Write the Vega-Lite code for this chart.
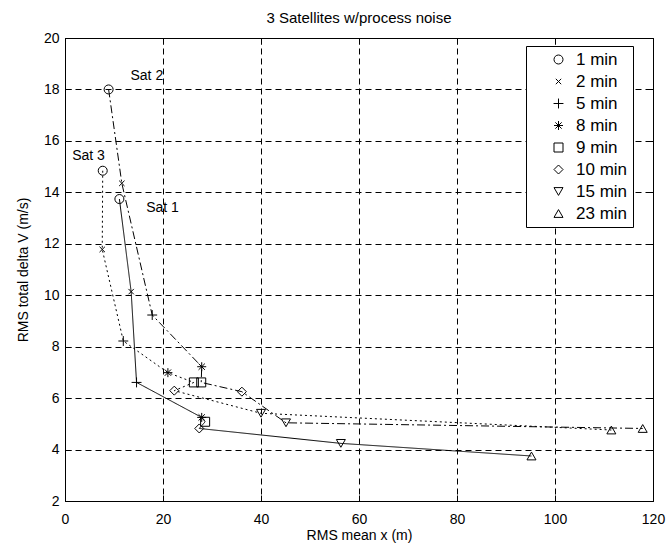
{
  "$schema": "https://vega.github.io/schema/vega-lite/v6.json",
  "width": 588,
  "height": 463,
  "autosize": "none",
  "padding": {"left": 65, "top": 38, "right": 17, "bottom": 51},
  "background": "white",
  "title": {"text": "3 Satellites w/process noise", "font": "Liberation Sans", "fontSize": 15, "fontWeight": "normal", "color": "black", "offset": 5},
  "config": {
    "view": {"stroke": "black", "strokeWidth": 1},
    "font": "Liberation Sans",
    "axis": {
      "domain": false,
      "tickColor": "black",
      "tickSize": -6,
      "labelFlush": false,
      "labelFont": "Liberation Sans",
      "labelFontSize": 14,
      "labelColor": "black",
      "titleFont": "Liberation Sans",
      "titleFontSize": 14,
      "titleFontWeight": "normal",
      "titleColor": "black",
      "grid": true,
      "gridColor": "black",
      "gridOpacity": 1,
      "gridDash": [6, 4],
      "gridWidth": 1
    }
  },
  "resolve": {"axis": {"x": "independent", "y": "independent"}},
  "datasets": {
    "pts": [
      {"sat": "Sat 1", "interval": "1 min", "order": 1, "x": 11.1, "y": 13.74},
      {"sat": "Sat 1", "interval": "2 min", "order": 2, "x": 13.5, "y": 10.14},
      {"sat": "Sat 1", "interval": "5 min", "order": 3, "x": 14.6, "y": 6.61},
      {"sat": "Sat 1", "interval": "8 min", "order": 4, "x": 27.9, "y": 5.25},
      {"sat": "Sat 1", "interval": "9 min", "order": 5, "x": 28.6, "y": 5.08},
      {"sat": "Sat 1", "interval": "10 min", "order": 6, "x": 27.4, "y": 4.82},
      {"sat": "Sat 1", "interval": "15 min", "order": 7, "x": 56.3, "y": 4.24},
      {"sat": "Sat 1", "interval": "23 min", "order": 8, "x": 95.2, "y": 3.75},
      {"sat": "Sat 2", "interval": "1 min", "order": 1, "x": 8.9, "y": 18.0},
      {"sat": "Sat 2", "interval": "2 min", "order": 2, "x": 11.6, "y": 14.35},
      {"sat": "Sat 2", "interval": "5 min", "order": 3, "x": 17.8, "y": 9.23},
      {"sat": "Sat 2", "interval": "8 min", "order": 4, "x": 27.9, "y": 7.22},
      {"sat": "Sat 2", "interval": "9 min", "order": 5, "x": 27.8, "y": 6.61},
      {"sat": "Sat 2", "interval": "10 min", "order": 6, "x": 36.1, "y": 6.25},
      {"sat": "Sat 2", "interval": "15 min", "order": 7, "x": 45.1, "y": 5.04},
      {"sat": "Sat 2", "interval": "23 min", "order": 8, "x": 117.9, "y": 4.82},
      {"sat": "Sat 3", "interval": "1 min", "order": 1, "x": 7.7, "y": 14.84},
      {"sat": "Sat 3", "interval": "2 min", "order": 2, "x": 7.6, "y": 11.78},
      {"sat": "Sat 3", "interval": "5 min", "order": 3, "x": 11.9, "y": 8.22},
      {"sat": "Sat 3", "interval": "8 min", "order": 4, "x": 21.0, "y": 6.99},
      {"sat": "Sat 3", "interval": "9 min", "order": 5, "x": 26.3, "y": 6.61},
      {"sat": "Sat 3", "interval": "10 min", "order": 6, "x": 22.3, "y": 6.29},
      {"sat": "Sat 3", "interval": "15 min", "order": 7, "x": 40.0, "y": 5.41},
      {"sat": "Sat 3", "interval": "23 min", "order": 8, "x": 111.5, "y": 4.76}
    ],
    "labels": [
      {"label": "Sat 2", "x": 16.7, "y": 18.54},
      {"label": "Sat 3", "x": 4.8, "y": 15.4},
      {"label": "Sat 1", "x": 19.9, "y": 13.41}
    ]
  },
  "layer": [
    {
      "data": {"name": "pts"},
      "mark": {"type": "line", "color": "black", "strokeWidth": 1},
      "encoding": {
        "x": {"field": "x", "type": "quantitative", "scale": {"domain": [0, 120], "nice": false, "zero": false}, "axis": {"values": [0, 20, 40, 60, 80, 100, 120], "title": "RMS mean x (m)", "labelPadding": 17, "titlePadding": 2}},
        "y": {"field": "y", "type": "quantitative", "scale": {"domain": [2, 20], "nice": false, "zero": false}, "axis": {"values": [2, 4, 6, 8, 10, 12, 14, 16, 18, 20], "title": "RMS total delta V (m/s)", "labelPadding": 12, "titlePadding": 13}},
        "detail": {"field": "sat", "type": "nominal"},
        "order": {"field": "order", "type": "quantitative"},
        "strokeDash": {"field": "sat", "type": "nominal", "scale": {"domain": ["Sat 1", "Sat 2", "Sat 3"], "range": [[1, 0], [8, 3, 2, 3], [2, 3]]}, "legend": null}
      }
    },
    {
      "data": {"name": "pts"},
      "mark": {"type": "point", "opacity": 0},
      "encoding": {
        "x": {"field": "x", "type": "quantitative", "axis": {"orient": "top", "values": [0, 20, 40, 60, 80, 100, 120], "labels": false, "grid": false, "title": null}},
        "y": {"field": "y", "type": "quantitative", "axis": {"orient": "right", "values": [2, 4, 6, 8, 10, 12, 14, 16, 18, 20], "labels": false, "grid": false, "title": null}}
      }
    },
    {
      "data": {"name": "pts"},
      "mark": {"type": "point", "filled": false, "color": "black", "strokeWidth": 1, "size": 81, "opacity": 1},
      "encoding": {
        "x": {"field": "x", "type": "quantitative", "axis": null},
        "y": {"field": "y", "type": "quantitative", "axis": null},
        "shape": {
          "field": "interval", "type": "nominal",
          "scale": {
            "domain": ["1 min", "2 min", "5 min", "8 min", "9 min", "10 min", "15 min", "23 min"],
            "range": ["circle", "M-0.6,-0.6L0.6,0.6M-0.6,0.6L0.6,-0.6", "M-1.1,0L1.1,0M0,-1.1L0,1.1", "M-1,0L1,0M0,-1L0,1M-0.7,-0.7L0.7,0.7M-0.7,0.7L0.7,-0.7", "square", "diamond", "triangle-down", "triangle-up"]
          },
          "legend": {
            "orient": "none", "legendX": 461, "legendY": 8, "title": null,
            "strokeColor": "black", "fillColor": "white", "padding": 5,
            "labelFont": "Liberation Sans", "labelFontSize": 17, "labelColor": "black",
            "symbolSize": 81, "symbolStrokeWidth": 1, "symbolStrokeColor": "black",
            "rowPadding": 4, "labelOffset": 9, "symbolOffset": 19
          }
        }
      }
    },
    {
      "data": {"name": "labels"},
      "mark": {"type": "text", "font": "Liberation Sans", "fontSize": 14, "color": "black", "align": "center", "baseline": "middle"},
      "encoding": {
        "x": {"field": "x", "type": "quantitative", "axis": null},
        "y": {"field": "y", "type": "quantitative", "axis": null},
        "text": {"field": "label", "type": "nominal"}
      }
    }
  ]
}
